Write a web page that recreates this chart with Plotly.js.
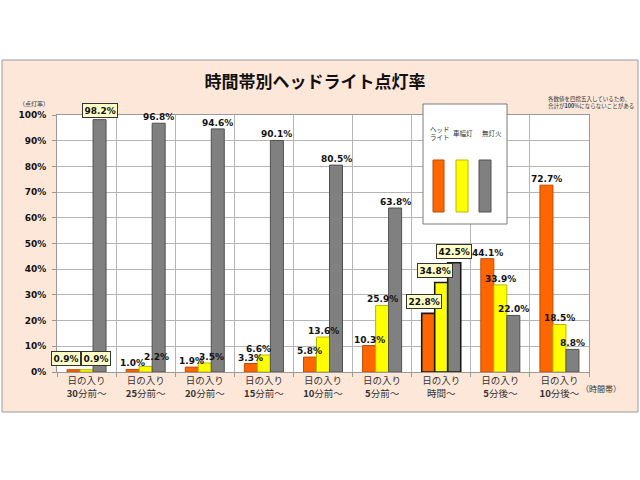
<!DOCTYPE html>
<html><head><meta charset="utf-8">
<script src="https://cdn.plot.ly/plotly-3.0.1.min.js"></script>
<style>html,body{margin:0;padding:0;background:#fff}</style>
</head><body><div id="chart" style="width:640px;height:480px"></div>
<script>
// ---- data ----
const categories = [
  '日の入り<br><b>30</b>分前～', '日の入り<br><b>25</b>分前～', '日の入り<br><b>20</b>分前～',
  '日の入り<br><b>15</b>分前～', '日の入り<br><b>10</b>分前～', '日の入り<br><b>5</b>分前～',
  '日の入り<br>時間～', '日の入り<br><b>5</b>分後～', '日の入り<br><b>10</b>分後～'
];
const headlight = [0.9, 1.0, 1.9, 3.3, 5.8, 10.3, 22.8, 44.1, 72.7];
const sidelight = [0.9, 2.2, 3.5, 6.6, 13.6, 25.9, 34.8, 33.9, 18.5];
const unlit     = [98.2, 96.8, 94.6, 90.1, 80.5, 63.8, 42.5, 22.0, 8.8];
const seriesNames = ['ヘッドライト', '車幅灯', '無灯火'];
const legendLabels = ['ヘッド<br>ライト', '車幅灯', '無灯火'];
const highlightedCats = [0, 6];   // groups whose labels are boxed
// ---- style ----
const colors = ['#FF6600', '#FFFF00', '#808080'];
const edgeColors = ['#C04A00', '#B8B800', '#505050'];
const labelNudge = { '0-0': [-8, 3], '1-0': [9, 3], '2-0': [0, 1], '1-1': [11, 3], '1-2': [7, 0], '1-3': [-5, 0],
                     '0-6': [-4, 3], '1-6': [-6, 4], '2-6': [0, 3] };

const bargap = 0.34;
const plotW = 532, nCat = categories.length;
const barW = plotW / nCat * (1 - bargap) / 3;
const allSeries = [headlight, sidelight, unlit];

const traces = allSeries.map((vals, s) => ({
  type: 'bar', name: seriesNames[s], x: categories, y: vals,
  marker: {
    color: colors[s],
    line: {
      color: vals.map((v, i) => i === 6 ? '#1a1a1a' : edgeColors[s]),
      width: vals.map((v, i) => i === 6 ? 1.6 : 1)
    }
  },
  hoverinfo: 'skip'
}));

const annotations = [];
allSeries.forEach((vals, s) => {
  vals.forEach((v, i) => {
    const boxed = highlightedCats.includes(i);
    const nudge = labelNudge[s + '-' + i] || [0, 0];
    annotations.push({
      x: categories[i], y: v, xref: 'x', yref: 'y',
      text: v.toFixed(1) + '%', showarrow: false,
      xanchor: 'center', yanchor: 'bottom',
      xshift: (s - 1) * barW + nudge[0], yshift: 1 + nudge[1],
      font: { family: 'DejaVu Sans', size: 9, color: '#111', weight: 'bold' },
      bgcolor: boxed ? '#FFFFC8' : 'rgba(0,0,0,0)',
      bordercolor: boxed ? '#333' : 'rgba(0,0,0,0)',
      borderwidth: boxed ? 1 : 0, borderpad: boxed ? 1.5 : 0
    });
  });
});

// paper coordinate helpers (plot area: x 57..589, y 115..372 px)
const px = x => (x - 57) / 532;
const py = y => (372 - y) / 257;

annotations.push(
  { xref: 'paper', yref: 'paper', x: px(34), y: py(104), xanchor: 'center', yanchor: 'middle',
    text: '（点灯率）', showarrow: false,
    font: { family: 'Noto Sans CJK JP', size: 6, color: '#333' } },
  { xref: 'paper', yref: 'paper', x: px(601), y: py(388), xanchor: 'center', yanchor: 'middle',
    text: '（時間帯）', showarrow: false,
    font: { family: 'Noto Sans CJK JP', size: 8, color: '#333' } },
  { xref: 'paper', yref: 'paper', x: px(546), y: py(103), xanchor: 'left', yanchor: 'middle',
    align: 'left', showarrow: false,
    text: '各数値を四捨五入しているため、<br>合計が<b>100</b>%にならないことがある',
    font: { family: 'Noto Sans CJK JP', size: 5.5, color: '#333' } }
);
const legendX = [428, 463, 492];
const legendAnchor = ['left', 'center', 'center'];
legendLabels.forEach((t, k) => annotations.push({
  xref: 'paper', yref: 'paper', x: px(legendX[k]), y: py(133), xanchor: legendAnchor[k], yanchor: 'middle',
  text: t, showarrow: false, align: 'left',
  font: { family: 'Noto Sans CJK JP', size: 6.5, color: '#333' }
}));

const shapes = [
  { type: 'rect', xref: 'paper', yref: 'paper', layer: 'below',
    x0: px(2), x1: px(638), y0: py(412), y1: py(60),
    fillcolor: '#FDE7D8', line: { color: '#9a9a9a', width: 1 } },
  { type: 'rect', xref: 'paper', yref: 'paper', layer: 'below',
    x0: 0, x1: 1, y0: 0, y1: 1, fillcolor: '#FFFFFF', line: { width: 0 } },
  { type: 'rect', xref: 'paper', yref: 'paper', layer: 'above',
    x0: px(423), x1: px(507), y0: py(224), y1: py(104),
    fillcolor: '#FFFFFF', line: { color: '#7a7a7a', width: 1 } }
];
const legendBarX = [[433, 444], [456, 468], [479, 491]];
legendBarX.forEach((b, k) => shapes.push({
  type: 'rect', xref: 'paper', yref: 'paper', layer: 'above',
  x0: px(b[0]), x1: px(b[1]), y0: py(212), y1: py(160),
  fillcolor: colors[k], line: { color: edgeColors[k], width: 1 }
}));

const layout = {
  width: 640, height: 480,
  margin: { l: 57, r: 51, t: 115, b: 108, pad: 0, autoexpand: false },
  paper_bgcolor: '#FFFFFF', plot_bgcolor: '#FFFFFF',
  showlegend: false, barmode: 'group', bargap: bargap, bargroupgap: 0,
  title: { text: '<b>時間帯別ヘッドライト点灯率</b>', x: 315 / 640, xref: 'container', xanchor: 'center',
           y: 1 - 82 / 480, yanchor: 'middle', automargin: false,
           font: { family: 'Noto Sans CJK JP', size: 17, color: '#111' } },
  xaxis: {
    type: 'category', range: [-0.5, nCat - 0.5], autorange: false,
    tickson: 'boundaries', showgrid: true, gridcolor: '#b5b5b5', gridwidth: 1,
    ticks: 'outside', ticklen: 4, tickcolor: '#999', automargin: false,
    showline: true, linecolor: '#999', mirror: true,
    tickfont: { family: 'Noto Sans CJK JP', size: 9.5, color: '#333' }
  },
  yaxis: {
    range: [0, 100], dtick: 10, ticksuffix: '%', showgrid: true, gridcolor: '#b5b5b5', gridwidth: 1,
    ticks: 'outside', ticklen: 4, tickcolor: '#999', automargin: false, ticklabelstandoff: 4,
    showline: true, linecolor: '#999', mirror: true, zeroline: false,
    tickfont: { family: 'DejaVu Sans', size: 9, color: '#111', weight: 'bold' }
  },
  annotations: annotations, shapes: shapes
};

Plotly.newPlot('chart', traces, layout, { staticPlot: true, displayModeBar: false });
</script></body></html>
